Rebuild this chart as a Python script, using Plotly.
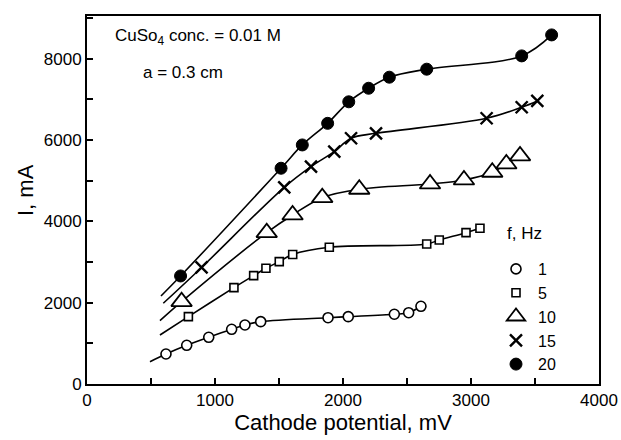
import plotly.graph_objects as go

# Cathode potential (mV) and current (mA) for each pulse frequency
freq_labels = ["1", "5", "10", "15", "20"]

pot_1 = [617, 779, 951, 1130, 1234, 1357, 1883, 2041, 2401, 2513, 2609]
cur_1 = [738, 952, 1149, 1345, 1451, 1533, 1631, 1656, 1715, 1754, 1911]

pot_5 = [792, 1148, 1302, 1398, 1502, 1607, 1893, 2654, 2752, 2961, 3070]
cur_5 = [1656, 2370, 2665, 2845, 3010, 3186, 3363, 3444, 3542, 3722, 3830]

pot_10 = [739, 1404, 1606, 1838, 2127, 2680, 2945, 3166, 3276, 3383]
cur_10 = [2025, 3722, 4157, 4583, 4789, 4920, 5018, 5208, 5412, 5609]

pot_15 = [895, 1541, 1750, 1932, 2063, 2258, 3122, 3396, 3518]
cur_15 = [2866, 4836, 5346, 5715, 6044, 6165, 6536, 6806, 6962]

pot_20 = [731, 1516, 1682, 1880, 2045, 2200, 2362, 2654, 3396, 3630]
cur_20 = [2657, 5306, 5879, 6410, 6940, 7273, 7545, 7742, 8069, 8585]

# Lower end of each fitted curve (the fits run a little below the first reading)
fit_start_pot = [492, 570, 570, 596, 578]
fit_start_cur = [549, 1205, 1557, 1985, 2165]

series_pot = [pot_1, pot_5, pot_10, pot_15, pot_20]
series_cur = [cur_1, cur_5, cur_10, cur_15, cur_20]

x_ticks = [0, 1000, 2000, 3000, 4000]
y_ticks = [0, 2000, 4000, 6000, 8000]

marker_styles = [
    dict(symbol="circle", size=10, color="white", line=dict(color="black", width=1.6)),
    dict(symbol="square", size=8, color="white", line=dict(color="black", width=1.6)),
    dict(symbol="triangle-up", size=18, color="white", line=dict(color="black", width=1.8)),
    dict(symbol="x-thin", size=12, color="black", line=dict(color="black", width=2.4)),
    dict(symbol="circle", size=12, color="black", line=dict(color="black", width=1)),
]

FONT = "Liberation Sans, Arial, Helvetica, sans-serif"

# plot area in pixels
L, R, T, B = 87, 599, 16, 384


def px_x(p):
    return (p - L) / (R - L)


def px_y(p):
    return (B - p) / (B - T)


fig = go.Figure()

# fitted curves
for i in range(5):
    fig.add_trace(go.Scatter(
        x=[fit_start_pot[i]] + series_pot[i],
        y=[fit_start_cur[i]] + series_cur[i],
        mode="lines",
        line=dict(color="black", width=1.6, shape="spline", smoothing=1.0),
        showlegend=False,
        hoverinfo="skip",
    ))

# measured points
for i in range(5):
    fig.add_trace(go.Scatter(
        x=series_pot[i],
        y=series_cur[i],
        mode="markers",
        marker=marker_styles[i],
        name=freq_labels[i],
    ))

fig.update_layout(
    width=621,
    height=440,
    margin=dict(l=L, r=621 - R, t=T, b=440 - B),
    paper_bgcolor="white",
    plot_bgcolor="white",
    font=dict(family=FONT, size=17, color="black"),
    legend=dict(
        x=px_x(494), y=px_y(252), xanchor="left", yanchor="top",
        bgcolor="rgba(0,0,0,0)",
        font=dict(size=16),
        itemsizing="trace",
        itemwidth=34,
        tracegroupgap=0,
    ),
)

fig.add_annotation(text="CuSo<sub>4</sub> conc. = 0.01 M", xref="paper", yref="paper",
                   x=px_x(113), y=px_y(37), xanchor="left", yanchor="middle",
                   showarrow=False, font=dict(size=17))
fig.add_annotation(text="a = 0.3 cm", xref="paper", yref="paper",
                   x=px_x(141), y=px_y(73), xanchor="left", yanchor="middle",
                   showarrow=False, font=dict(size=17))
fig.add_annotation(text="f, Hz", xref="paper", yref="paper",
                   x=px_x(505), y=px_y(233), xanchor="left", yanchor="middle",
                   showarrow=False, font=dict(size=17))
fig.add_annotation(text="I, mA", xref="paper", yref="paper",
                   x=px_x(25), y=px_y(190), xanchor="center", yanchor="middle",
                   textangle=-90, showarrow=False, font=dict(size=22))

fig.update_xaxes(
    range=[0, 4000],
    tickvals=x_ticks,
    ticks="inside", ticklen=6, tickwidth=1.5, tickcolor="black",
    minor=dict(dtick=500, ticks="inside", ticklen=6, tickwidth=1.5, tickcolor="black"),
    showline=True, linecolor="black", linewidth=2, mirror=True,
    showgrid=False, zeroline=False, automargin=False,
    title=dict(text="Cathode potential, mV", font=dict(size=22), standoff=5),
    tickfont=dict(size=17),
)
fig.update_yaxes(
    range=[0, 9050],
    tickvals=y_ticks,
    ticks="inside", ticklen=6, tickwidth=1.5, tickcolor="black",
    minor=dict(dtick=1000, ticks="inside", ticklen=6, tickwidth=1.5, tickcolor="black"),
    showline=True, linecolor="black", linewidth=2, mirror=True,
    showgrid=False, zeroline=False, automargin=False,
    tickfont=dict(size=17),
)

fig.write_html("out.html")
